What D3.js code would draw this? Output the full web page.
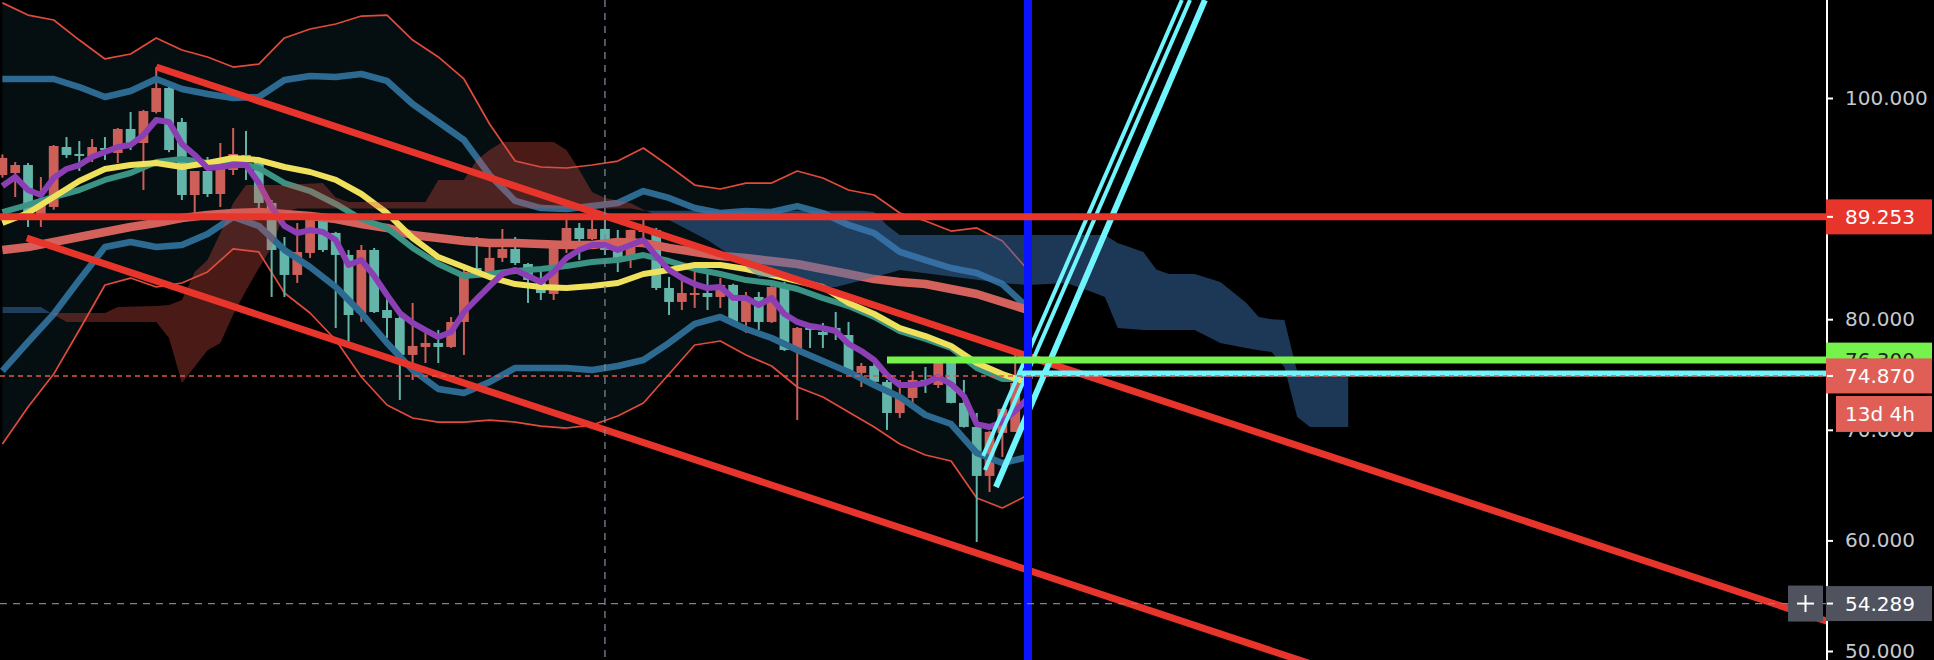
<!DOCTYPE html>
<html>
<head>
<meta charset="utf-8">
<script src="https://cdn.jsdelivr.net/npm/d3@7"></script>
<style>
  html, body { margin: 0; padding: 0; background: #000; }
  svg { display: block; }
  text { font-family: "DejaVu Sans", sans-serif; }
</style>
</head>
<body>
<script>
var width = 1934, height = 660;
var axisX = 1827;

// candles, one per bar
var candleOpen = [93.04, 93.22, 93.94, 89.24, 90.15, 95.57, 94.94, 94.67, 95.48, 95.03,
    97.2, 95.93, 98.73, 100.9, 97.83, 91.23, 93.4, 91.32, 93.49, 94.85,
    94.21, 90.51, 86.26, 84.0, 85.99, 88.97, 87.8, 85.81, 80.56, 86.26,
    80.83, 80.11, 76.77, 77.49, 77.85, 77.49, 79.75, 84.63, 84.27, 85.54,
    86.35, 84.99, 83.37, 82.28, 86.53, 88.25, 87.25, 88.16, 86.44, 85.36,
    87.89, 88.07, 82.82, 81.56, 82.2, 82.37, 82.01, 83.1, 79.75, 82.01,
    79.75, 82.91, 77.22, 79.21, 78.85, 79.21, 78.57, 75.14, 75.77, 74.33,
    71.52, 72.88, 74.51, 74.05, 76.13, 72.43, 70.26, 65.83, 69.72, 69.81, 74.6];
var candleHigh = [94.9, 94.21, 94.12, 92.86, 95.75, 96.47, 96.11, 96.29, 96.47, 97.29,
    98.73, 98.92, 102.8, 101.0, 98.19, 93.4, 94.67, 95.93, 97.29, 97.02,
    94.58, 90.78, 87.43, 88.7, 89.15, 89.42, 87.9, 86.26, 86.71, 86.44,
    81.92, 80.83, 81.47, 78.76, 79.03, 80.2, 84.45, 87.43, 86.53, 88.16,
    87.43, 85.08, 84.63, 86.6, 89.42, 88.7, 89.9, 89.42, 88.07, 88.1,
    88.97, 88.25, 83.82, 84.0, 84.27, 84.18, 83.73, 83.2, 82.46, 82.46,
    83.0, 83.37, 79.3, 79.3, 79.66, 80.65, 79.75, 76.04, 76.0, 74.51,
    74.51, 75.32, 75.68, 76.5, 76.2, 74.51, 71.52, 69.9, 71.95, 76.77, 75.23];
var candleLow = [92.8, 91.05, 88.34, 88.34, 89.9, 94.58, 93.4, 94.21, 94.4, 94.12,
    95.3, 91.68, 98.6, 95.1, 90.78, 89.6, 91.05, 90.15, 93.04, 92.59,
    89.24, 82.01, 82.01, 83.28, 85.54, 86.08, 79.21, 77.49, 79.75, 80.56,
    78.3, 72.7, 74.51, 76.04, 76.04, 77.4, 76.77, 84.2, 84.2, 85.17,
    84.9, 81.47, 81.74, 81.74, 85.99, 85.36, 87.16, 85.81, 84.27, 84.63,
    86.53, 82.64, 80.38, 80.83, 81.02, 80.83, 81.02, 79.66, 78.76, 79.03,
    79.66, 77.13, 70.89, 77.4, 77.4, 78.12, 75.05, 73.87, 74.24, 69.99,
    71.07, 71.98, 73.33, 73.78, 72.4, 70.2, 59.86, 64.38, 67.55, 69.8, 73.78];
var candleClose = [94.58, 93.94, 89.24, 90.78, 95.66, 94.85, 94.76, 95.57, 95.39, 97.2,
    95.75, 98.82, 100.9, 95.3, 91.23, 93.4, 91.32, 93.58, 94.94, 94.21,
    90.51, 86.26, 84.0, 86.08, 88.97, 86.26, 85.81, 80.38, 86.26, 80.65,
    80.11, 76.77, 77.58, 77.85, 77.49, 79.75, 84.27, 84.27, 85.54, 86.35,
    85.08, 83.55, 82.37, 86.53, 88.25, 87.25, 88.16, 86.26, 85.36, 88.07,
    88.07, 82.82, 81.56, 82.37, 82.37, 82.01, 83.1, 79.75, 82.01, 79.75,
    82.91, 77.22, 79.21, 79.03, 78.57, 78.85, 75.14, 75.77, 74.33, 71.52,
    72.97, 74.51, 74.33, 76.13, 72.43, 70.26, 65.83, 69.81, 71.89, 74.24, 74.87];

// indicator lines read every second bar
var lineBars = d3.range(0, 81, 2);
var envUpper = [108.6, 107.5, 107.05, 105.24, 103.53, 103.98, 105.43, 104.34, 103.71, 102.8,
    103.07, 105.43, 106.24, 106.69, 107.41, 107.5, 105.24, 103.71, 101.72, 97.65,
    94.3, 93.76, 93.67, 93.94, 94.3, 95.48, 93.85, 92.13, 91.77, 92.31,
    92.31, 93.4, 92.77, 91.68, 91.23, 89.6, 88.88, 87.97, 88.25, 87.07, 84.45];
var envLower = [68.71, 72.06, 75.04, 79.02, 83.09, 83.72, 82.91, 83.27, 84.27, 86.35,
    86.08, 82.37, 80.56, 78.12, 74.77, 72.24, 71.07, 70.7, 70.7, 70.88,
    70.7, 70.34, 70.16, 70.43, 71.25, 72.42, 75.04, 77.67, 78.03, 76.76,
    75.77, 73.87, 72.97, 71.61, 70.25, 68.71, 67.72, 67.18, 63.83, 62.93, 64.1];
var bbUpper = [101.72, 101.72, 101.72, 100.99, 100.09, 100.63, 101.72, 100.81, 100.36, 100.0,
    100.09, 101.63, 101.99, 101.9, 102.17, 101.54, 99.46, 97.83, 96.2, 93.04,
    90.69, 90.05, 89.96, 90.23, 90.51, 91.59, 90.96, 90.05, 89.6, 89.78,
    89.69, 90.23, 89.6, 88.52, 87.79, 86.08, 85.35, 84.63, 84.18, 83.18, 81.01];
var bbLower = [75.32, 77.94, 80.47, 83.54, 86.53, 86.98, 86.53, 86.71, 87.7, 89.24,
    88.43, 86.26, 84.72, 82.91, 80.56, 77.85, 75.41, 73.69, 73.33, 74.32,
    75.59, 75.59, 75.59, 75.41, 75.77, 76.31, 77.85, 79.57, 80.2, 79.11,
    78.3, 77.21, 76.22, 75.23, 74.05, 72.97, 71.34, 70.52, 67.9, 66.99, 67.54];
var salmonMA = [86.26, 86.53, 86.98, 87.43, 87.88, 88.34, 88.7, 89.15, 89.42, 89.6,
    89.69, 89.51, 89.33, 89.06, 88.61, 88.25, 87.61, 87.34, 87.07, 86.89,
    86.89, 86.8, 86.71, 86.71, 86.98, 86.89, 86.44, 86.08, 85.71, 85.53,
    85.26, 84.99, 84.54, 84.09, 83.63, 83.36, 83.18, 82.73, 82.28, 81.56, 80.83];
var tealMA = [89.69, 90.33, 91.05, 91.68, 92.59, 93.22, 94.21, 94.48, 94.12, 94.21,
    93.67, 92.31, 91.59, 90.42, 89.06, 88.25, 86.44, 84.99, 83.91, 84.09,
    84.36, 84.54, 84.81, 85.17, 85.35, 85.8, 85.26, 84.54, 84.09, 83.54,
    83.27, 82.73, 81.91, 81.19, 80.2, 78.93, 78.21, 77.4, 75.59, 74.59, 74.59];
var yellowMA = [88.7, 89.6, 91.05, 92.5, 93.58, 93.94, 94.12, 93.76, 94.12, 94.57,
    94.39, 93.76, 93.31, 92.59, 91.32, 89.6, 87.34, 85.62, 84.72, 83.81,
    83.18, 82.91, 82.82, 83.0, 83.27, 84.09, 84.45, 84.9, 84.9, 84.54,
    84.0, 83.45, 82.91, 81.46, 80.47, 79.2, 78.48, 77.58, 76.04, 75.04, 74.23];
// purple one per bar
var purpleMA = [92.04, 92.86, 91.68, 91.23, 92.77, 93.58, 93.94, 94.67, 95.12, 95.57,
    95.75, 96.65, 98.01, 97.83, 95.84, 94.85, 93.67, 93.76, 93.94, 93.94,
    92.31, 90.14, 88.43, 87.79, 88.06, 87.88, 87.16, 84.9, 85.35, 83.91,
    82.19, 80.56, 79.66, 79.02, 78.39, 78.84, 80.65, 81.83, 83.0, 84.09,
    84.45, 83.91, 83.36, 84.27, 85.53, 86.26, 86.71, 86.71, 86.26, 86.71,
    87.16, 85.71, 84.45, 83.72, 83.18, 82.82, 82.91, 81.92, 81.92, 81.28,
    81.92, 80.47, 79.75, 79.38, 79.2, 78.93, 77.76, 77.12, 76.31, 74.95,
    74.05, 74.05, 74.23, 74.77, 74.14, 73.05, 70.52, 70.25, 70.7, 71.7, 72.87];

// ichimoku cloud (shifted ahead)
var cloudBars = [0, 3, 4, 5, 8, 9, 12, 13, 14, 15, 16, 17, 18, 19, 20, 21, 22, 23, 25, 26,
    27, 33, 34, 36, 37, 38, 39, 43, 44, 45, 46, 47, 49, 50, 52, 55, 57, 59, 61, 63,
    65, 67, 68, 69, 70, 78, 80, 83, 85, 86, 87, 89, 90, 91, 93, 95, 97, 98, 99, 100,
    101, 102, 105];
var spanA = [80.56, 80.56, 80.56, 80.56, 80.56, 81.11, 81.2, 81.29, 81.74, 84.27,
    85.36, 87.8, 90.51, 92.14, 92.14, 92.14, 92.14, 92.2, 92.32, 91.0,
    90.6, 90.6, 92.59, 92.59, 94.4, 95.3, 96.02, 96.02, 95.3, 93.5,
    91.5, 90.96, 90.5, 89.9, 88.97, 87.16, 85.63, 83.82, 83.82, 82.91,
    82.91, 83.5, 83.82, 84.1, 84.45, 83.28, 83.1, 83.28, 82.46, 82.01,
    79.21, 79.03, 79.03, 79.03, 79.03, 77.85, 77.4, 77.2, 77.04, 75.68,
    71.16, 70.26, 70.26];
var spanB = [81.11, 81.11, 80.4, 79.75, 79.75, 79.75, 79.75, 78.3, 74.24, 75.7,
    77.2, 77.85, 80.4, 82.6, 84.6, 86.5, 89.7, 90.0, 90.0, 90.0,
    90.0, 90.0, 90.0, 90.0, 90.0, 90.0, 90.0, 90.0, 90.0, 90.0,
    90.0, 90.0, 90.0, 89.8, 89.8, 89.8, 89.8, 89.8, 89.8, 89.8,
    89.8, 89.8, 89.7, 88.5, 87.62, 87.62, 87.62, 87.62, 87.62, 87.62,
    86.9, 86.08, 84.5, 84.09, 84.09, 83.37, 81.5, 80.2, 80.0, 79.93,
    75.23, 74.78, 74.78];

// drawings, as [bar, price]
var channelUpper = [[12, 102.8], [79.7, 76.77]];
var channelLower = [[1.9, 87.34], [79.7, 57.43]];
var cyanRays = [
    {pts: [[76.5, 67.64], [92.0, 108.86]], w: 4},
    {pts: [[76.64, 66.37], [92.64, 108.86]], w: 4},
    {pts: [[77.5, 64.83], [93.8, 108.86]], w: 6}
];
var levelRed = 89.253, levelGreen = 76.3, levelCyan = 75.1;
var greenStart = 69, cyanStart = 79.2;
var lastBar = 80, lastPrice = 74.87;
var crossBar = 47, crossPrice = 54.289;
var priceTicks = [100, 80, 70, 60, 50];

var svg = d3.select("body").append("svg")
    .attr("width", width)
    .attr("height", height);

svg.append("rect").attr("width", width).attr("height", height).attr("fill", "#000");

var x = d3.scaleLinear().domain([0, 80]).range([2.4, 1028]);
var y = d3.scaleLinear().domain([50, 100]).range([651, 98]);
var step = x(1) - x(0);

var defs = svg.append("defs");
defs.append("clipPath").attr("id", "plot").append("rect")
    .attr("x", 0).attr("y", 0).attr("width", axisX - 1).attr("height", height);

var plot = svg.append("g").attr("clip-path", "url(#plot)");

var lineData = function(values) {
    return values.map(function(v, k) { return {i: lineBars[k], v: v}; });
};
var line = d3.line().x(function(d) { return x(d.i); }).y(function(d) { return y(d.v); });

// envelope fill + thin lines
var env = envUpper.map(function(v, k) { return {i: lineBars[k], hi: v, lo: envLower[k]}; });
plot.append("path")
    .attr("d", d3.area().x(function(d) { return x(d.i); })
        .y0(function(d) { return y(d.lo); })
        .y1(function(d) { return y(d.hi); })(env))
    .attr("fill", "#050e11");

[envUpper, envLower].forEach(function(s) {
    plot.append("path").attr("d", line(lineData(s)))
        .attr("fill", "none").attr("stroke", "#e24a3b").attr("stroke-width", 1.7)
        .attr("stroke-linejoin", "round");
});

// candles
var candles = candleOpen.map(function(o, i) {
    return {i: i, o: o, h: candleHigh[i], l: candleLow[i], c: candleClose[i]};
});
var bw = step * 0.76;
var cg = plot.selectAll(".candle").data(candles).enter().append("g").attr("class", "candle");
cg.append("line")
    .attr("x1", function(d) { return x(d.i); })
    .attr("x2", function(d) { return x(d.i); })
    .attr("y1", function(d) { return y(d.h); })
    .attr("y2", function(d) { return y(d.l); })
    .attr("stroke", function(d) { return d.c >= d.o ? "#cd5f59" : "#64b5a9"; })
    .attr("stroke-width", 2);
cg.append("rect")
    .attr("x", function(d) { return x(d.i) - bw / 2; })
    .attr("width", bw)
    .attr("y", function(d) { return y(Math.max(d.o, d.c)); })
    .attr("height", function(d) { return Math.max(2, Math.abs(y(d.o) - y(d.c))); })
    .attr("fill", function(d) { return d.c >= d.o ? "#cd5f59" : "#64b5a9"; });

// bands and averages
var series = [
    {v: bbUpper, c: "#2d6a92", w: 6.5},
    {v: bbLower, c: "#2d6a92", w: 6.5},
    {v: salmonMA, c: "#d3625c", w: 8.5},
    {v: tealMA, c: "#3b9384", w: 6},
    {v: yellowMA, c: "#efe15c", w: 6}
];
series.forEach(function(s) {
    plot.append("path").attr("d", line(lineData(s.v)))
        .attr("fill", "none").attr("stroke", s.c).attr("stroke-width", s.w)
        .attr("stroke-linejoin", "round");
});
plot.append("path")
    .attr("d", line(purpleMA.map(function(v, i) { return {i: i, v: v}; })))
    .attr("fill", "none").attr("stroke", "#8c3fb5").attr("stroke-width", 6)
    .attr("stroke-linejoin", "round");

// cloud: red where A above B, blue where B above A
var cloud = cloudBars.map(function(b, k) { return {i: b, a: spanA[k], b: spanB[k]}; });
var cx = function(d) { return x(d.i); };
defs.append("clipPath").attr("id", "belowA").append("path")
    .attr("d", d3.area().x(cx).y0(height).y1(function(d) { return y(d.a); })(cloud));
defs.append("clipPath").attr("id", "aboveA").append("path")
    .attr("d", d3.area().x(cx).y0(0).y1(function(d) { return y(d.a); })(cloud));
plot.append("g").attr("clip-path", "url(#belowA)").append("path")
    .attr("d", d3.area().x(cx).y0(0).y1(function(d) { return y(d.b); })(cloud))
    .attr("fill", "rgb(225,80,70)").attr("fill-opacity", 0.33);
plot.append("g").attr("clip-path", "url(#aboveA)").append("path")
    .attr("d", d3.area().x(cx).y0(height).y1(function(d) { return y(d.b); })(cloud))
    .attr("fill", "rgb(60,115,180)").attr("fill-opacity", 0.48);

// channel lines, extended to the price scale
var rightBar = x.invert(axisX);
var extend = function(p) {
    var s = (p[1][1] - p[0][1]) / (p[1][0] - p[0][0]);
    return [p[0], [rightBar, p[0][1] + s * (rightBar - p[0][0])]];
};
[channelUpper, channelLower].forEach(function(p) {
    var e = extend(p);
    plot.append("line")
        .attr("x1", x(e[0][0])).attr("y1", y(e[0][1]))
        .attr("x2", x(e[1][0])).attr("y2", y(e[1][1]))
        .attr("stroke", "#e8352b").attr("stroke-width", 7);
});

cyanRays.forEach(function(r) {
    plot.append("line")
        .attr("x1", x(r.pts[0][0])).attr("y1", y(r.pts[0][1]))
        .attr("x2", x(r.pts[1][0])).attr("y2", y(r.pts[1][1]))
        .attr("stroke", "#70f5fd").attr("stroke-width", r.w);
});

plot.append("line")
    .attr("x1", x(lastBar)).attr("x2", x(lastBar))
    .attr("y1", 0).attr("y2", height)
    .attr("stroke", "#0a14ff").attr("stroke-width", 8);

plot.append("line")
    .attr("x1", 0).attr("x2", axisX)
    .attr("y1", y(levelRed)).attr("y2", y(levelRed))
    .attr("stroke", "#e8352b").attr("stroke-width", 7);
plot.append("line")
    .attr("x1", x(greenStart)).attr("x2", axisX)
    .attr("y1", y(levelGreen)).attr("y2", y(levelGreen))
    .attr("stroke", "#74f24b").attr("stroke-width", 7);
plot.append("line")
    .attr("x1", x(cyanStart)).attr("x2", axisX)
    .attr("y1", y(levelCyan)).attr("y2", y(levelCyan))
    .attr("stroke", "#70f5fd").attr("stroke-width", 6);

plot.append("line")
    .attr("x1", 0).attr("x2", axisX)
    .attr("y1", y(lastPrice)).attr("y2", y(lastPrice))
    .attr("stroke", "#e0574d").attr("stroke-width", 1.5)
    .attr("stroke-dasharray", "5,4");

// crosshair
plot.append("line")
    .attr("x1", x(crossBar)).attr("x2", x(crossBar))
    .attr("y1", 0).attr("y2", height)
    .attr("stroke", "#7b8494").attr("stroke-width", 1.3).attr("stroke-dasharray", "7,6");
plot.append("line")
    .attr("x1", 0).attr("x2", axisX)
    .attr("y1", y(crossPrice)).attr("y2", y(crossPrice))
    .attr("stroke", "#7b8494").attr("stroke-width", 1.3).attr("stroke-dasharray", "7,6");

// price scale
svg.append("rect").attr("x", axisX).attr("y", 0)
    .attr("width", width - axisX).attr("height", height).attr("fill", "#000");

var axis = svg.append("g")
    .attr("transform", "translate(" + axisX + ",0)")
    .call(d3.axisRight(y).tickValues(priceTicks).tickSize(6).tickPadding(12)
        .tickFormat(d3.format(".3f")));
axis.select(".domain").remove();
axis.selectAll(".tick line").attr("stroke", "#fff").attr("stroke-width", 2);
axis.selectAll(".tick text").attr("fill", "#c5c8cf").attr("font-size", 20)
    .attr("font-family", "DejaVu Sans, sans-serif");

svg.append("line")
    .attr("x1", axisX).attr("x2", axisX).attr("y1", 0).attr("y2", height)
    .attr("stroke", "#fff").attr("stroke-width", 2);

var priceLabel = function(price, txt, bg, fg, left) {
    var cy = y(price);
    svg.append("rect")
        .attr("x", left).attr("y", cy - 17.5)
        .attr("width", 1932 - left).attr("height", 35)
        .attr("fill", bg);
    svg.append("line")
        .attr("x1", axisX).attr("x2", axisX + 6).attr("y1", cy).attr("y2", cy)
        .attr("stroke", "#fff").attr("stroke-width", 2);
    svg.append("text")
        .attr("x", 1845).attr("y", cy)
        .attr("dominant-baseline", "central")
        .attr("font-size", 20).attr("fill", fg)
        .text(txt);
};

priceLabel(levelRed, d3.format(".3f")(levelRed), "#e8352b", "#fff", 1826);
priceLabel(levelGreen, d3.format(".3f")(levelGreen), "#76f24c", "#222", 1826);
priceLabel(lastPrice, d3.format(".3f")(lastPrice), "#df5f57", "#fff", 1826);
priceLabel(crossPrice, d3.format(".3f")(crossPrice), "#50535e", "#fff", 1826);

// countdown under the last price
var cdY = y(lastPrice) + 38;
svg.append("rect").attr("x", 1836).attr("y", cdY - 18)
    .attr("width", 96).attr("height", 36).attr("fill", "#df5f57");
svg.append("text").attr("x", 1845).attr("y", cdY)
    .attr("dominant-baseline", "central")
    .attr("font-size", 20).attr("fill", "#fff")
    .text("13d 4h");

// crosshair "+" button
var cpY = y(crossPrice);
svg.append("rect").attr("x", 1788).attr("y", cpY - 18)
    .attr("width", 35).attr("height", 36).attr("fill", "#50535e");
svg.append("line").attr("x1", 1797).attr("x2", 1814).attr("y1", cpY).attr("y2", cpY)
    .attr("stroke", "#fff").attr("stroke-width", 2);
svg.append("line").attr("x1", 1805.5).attr("x2", 1805.5).attr("y1", cpY - 8.5).attr("y2", cpY + 8.5)
    .attr("stroke", "#fff").attr("stroke-width", 2);
</script>
</body>
</html>
